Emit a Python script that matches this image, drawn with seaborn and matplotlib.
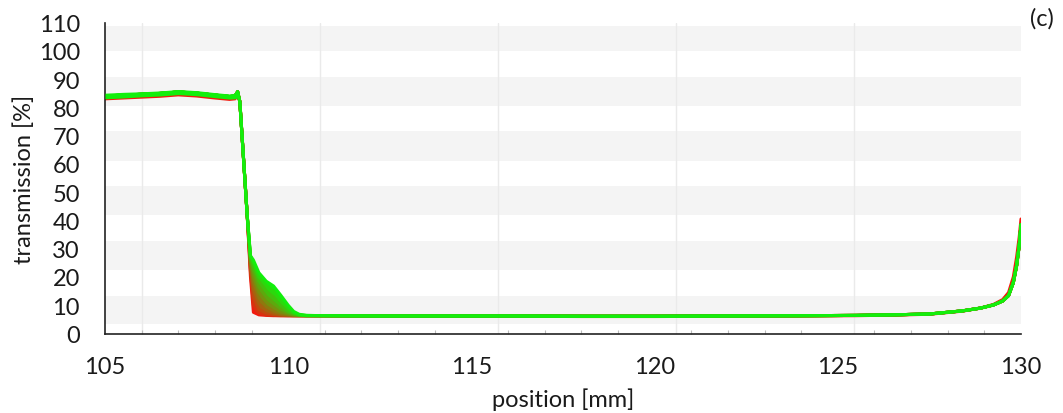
import numpy as np
import pandas as pd
import matplotlib
matplotlib.use("Agg")
import matplotlib.pyplot as plt
from matplotlib.colors import LinearSegmentedColormap, to_hex
from matplotlib.ticker import MultipleLocator
import seaborn as sns

# ---------------- data ----------------
plateau_x = [105.0, 105.5, 106.0, 106.5, 107.0, 107.5, 108.0, 108.4, 108.55, 108.62]
plateau_y = [84.0, 84.3, 84.6, 84.9, 85.4, 85.0, 84.3, 83.8, 84.0, 85.5]
plateau_y_red = [83.0, 83.3, 83.6, 83.9, 84.4, 84.0, 83.3, 82.8, 83.0, 84.5]
plateau_band_lo = [83.0, 83.3, 83.7, 84.0, 84.5, 84.1, 83.4, 82.9, 83.0, 83.5]
plateau_band_hi = [85.0, 85.3, 85.5, 85.8, 86.3, 85.9, 85.2, 84.7, 85.0, 86.2]

drop_x = [108.68, 108.78, 108.88]
drop_y = [82.0, 62.0, 42.0]

knee_x = [108.97, 109.05, 109.2, 109.4, 109.6, 109.8, 110.0, 110.15, 110.3, 110.5]
knee_curves = [
    [20.0, 7.5, 6.6, 6.4, 6.3, 6.3, 6.3, 6.3, 6.3, 6.3],
    [22.0, 10.0, 7.2, 6.6, 6.4, 6.3, 6.3, 6.3, 6.3, 6.3],
    [23.0, 13.0, 8.5, 7.2, 6.7, 6.4, 6.3, 6.3, 6.3, 6.3],
    [24.0, 15.5, 10.5, 8.2, 7.2, 6.6, 6.4, 6.3, 6.3, 6.3],
    [25.0, 18.0, 12.5, 9.5, 8.0, 7.0, 6.6, 6.4, 6.3, 6.3],
    [26.0, 20.0, 14.5, 11.2, 9.2, 7.6, 6.9, 6.5, 6.4, 6.3],
    [26.5, 22.0, 16.5, 13.0, 10.8, 8.6, 7.3, 6.7, 6.4, 6.3],
    [27.0, 23.5, 18.5, 15.0, 12.8, 9.8, 7.8, 7.0, 6.5, 6.3],
    [27.5, 25.0, 20.0, 17.0, 15.0, 11.5, 8.8, 7.3, 6.6, 6.4],
    [27.5, 26.0, 21.5, 18.5, 16.8, 13.5, 10.0, 7.8, 6.8, 6.4],
]

tail_x = [111.0, 112.5, 114.0, 116.0, 118.0, 120.0, 122.0, 124.0, 125.5, 126.5,
          127.5, 128.4, 128.9, 129.25, 129.5, 129.66, 129.79, 129.88, 129.95, 130.0]
tail_y = [6.3, 6.2, 6.2, 6.2, 6.1, 6.1, 6.2, 6.3, 6.4, 6.6,
          6.9, 8.0, 9.0, 10.1, 11.5, 13.4, 18.0, 24.0, 31.0, 38.5]
tail_y_red = [6.2, 6.1, 6.1, 6.1, 6.0, 6.0, 6.1, 6.2, 6.3, 6.5,
              6.8, 7.9, 9.0, 10.3, 12.0, 14.5, 20.0, 27.0, 34.0, 40.5]

x_ticks = [105, 110, 115, 120, 125, 130]
y_ticks = [0, 10, 20, 30, 40, 50, 60, 70, 80, 90, 100, 110]

# background decoration (chart's own shifted grid)
band_edges = [(3.4, 13.3), (22.4, 32.7), (41.9, 52.1), (60.9, 71.5), (80.4, 90.6), (99.8, 108.7)]
vgrid_x = [106.0, 110.86, 115.72, 120.58, 125.44]

# ---------------- build long-form table ----------------
n = len(knee_curves)
rows = []
for i, kc in enumerate(knee_curves):
    py = plateau_y_red if i == 0 else plateau_y
    ty = tail_y_red if i == 0 else tail_y
    xs = plateau_x + drop_x + knee_x + tail_x
    ys = py + drop_y + kc + ty
    for xv, yv in zip(xs, ys):
        rows.append({"position": xv, "transmission": yv, "run": i})
df = pd.DataFrame(rows)

cmap = LinearSegmentedColormap.from_list("rg", ["#f21a0f", "#12ef0c"])
colors = [to_hex(cmap(i / (n - 1))) for i in range(n)]

# ---------------- figure ----------------
sns.set_theme(style="white")
plt.rcParams["font.family"] = ["Lato", "DejaVu Sans"]

TXT = "#1a1a1a"
FS = 17

fig = plt.figure(figsize=(10.63, 4.14), dpi=100)
ax = fig.add_axes([105 / 1063, 1 - 334.5 / 414, (1021 - 105) / 1063, 311 / 414])
ax.set_facecolor("white")

for lo, hi in band_edges:
    ax.axhspan(lo, hi, color="#f4f4f4", lw=0, zorder=0)
for xv in vgrid_x:
    ax.axvline(xv, color="#eaeaea", lw=1.0, zorder=0.5)

# gradient fill in the knee region
for i in range(n - 1):
    ax.fill_between(knee_x, knee_curves[i], knee_curves[i + 1],
                    color=colors[i + 1], lw=0, zorder=1)

sns.lineplot(data=df, x="position", y="transmission", hue="run",
             palette=colors, linewidth=2.2, legend=False, ax=ax,
             estimator=None, sort=False, zorder=2)

# noise band of the plateau
ax.fill_between(plateau_x, plateau_band_lo, plateau_band_hi,
                color=colors[-1], lw=0, zorder=3)

ax.set_xlim(105, 130)
ax.set_ylim(0, 110)
ax.set_xticks(x_ticks)
ax.set_yticks(y_ticks)
ax.xaxis.set_minor_locator(MultipleLocator(1))

for side in ["top", "right"]:
    ax.spines[side].set_visible(False)
for side in ["left", "bottom"]:
    ax.spines[side].set_color("#222222")
    ax.spines[side].set_linewidth(1.2)

ax.tick_params(axis="both", which="major", direction="out", length=6,
               width=1.2, color="#222222", labelsize=FS, labelcolor=TXT)
ax.tick_params(axis="x", which="major", pad=10)
ax.tick_params(axis="y", which="major", pad=12)
ax.tick_params(axis="x", which="minor", direction="in", length=3,
               width=0.8, color="#bbbbbb", bottom=True)

ax.set_xlabel("position [mm]", fontsize=FS, color=TXT, labelpad=8)
ax.set_ylabel("transmission [%]", fontsize=FS, color=TXT, labelpad=3)
ax.grid(False)

fig.text(1042 / 1063, 1 - 19 / 414, "(c)", fontsize=FS, color=TXT,
         ha="center", va="center")

fig.savefig("out.png", dpi=100)
